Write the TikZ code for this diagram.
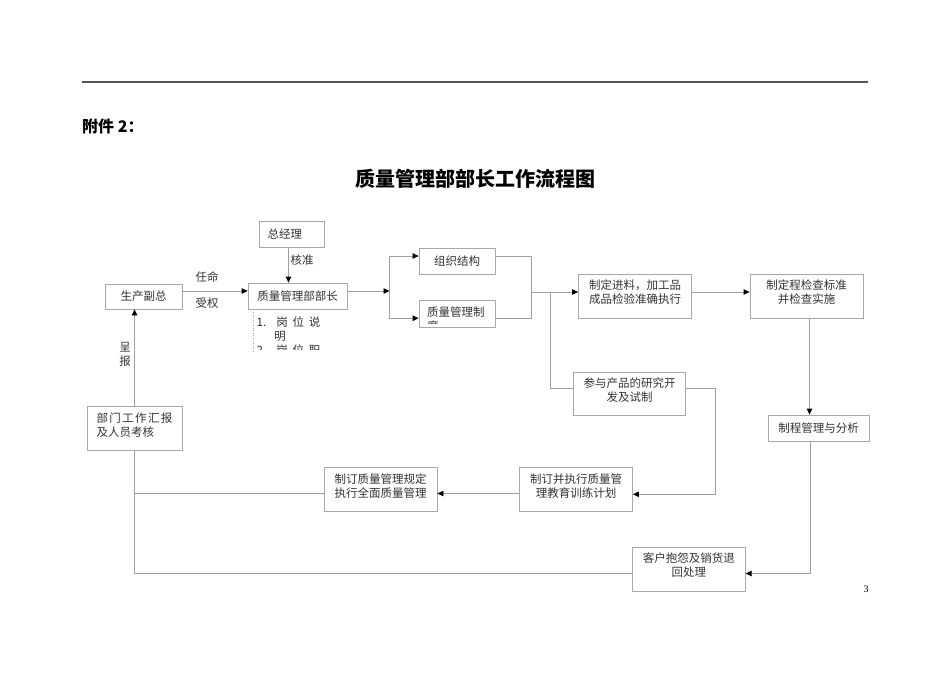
\documentclass[tikz,border=0pt]{standalone}
\usepackage{fontspec}
\setmainfont{Noto Sans CJK SC}
\newfontfamily\serifnum{Liberation Serif}
\usetikzlibrary{arrows.meta}
\definecolor{boxc}{HTML}{A8A8A8}
\definecolor{linec}{HTML}{A0A0A0}
\definecolor{txtc}{HTML}{333333}
\definecolor{rulec}{HTML}{555555}
\begin{document}
\begin{tikzpicture}[x=1pt,y=-1pt,
  box/.style={draw=boxc, line width=0.8pt, fill=white, inner sep=0pt, text=txtc,
    font=\fontsize{11.5}{14}\selectfont, align=center},
  conn/.style={draw=linec, line width=0.8pt},
  arr/.style={conn, -{Triangle[length=6pt,width=5.5pt,color=black,fill=black]}},
  lbl/.style={text=txtc, font=\fontsize{11.5}{14}\selectfont, inner sep=0pt}]
\useasboundingbox (0,0) rectangle (950,672);

% header
\draw[line width=1.3pt, color=rulec] (82,82) -- (868,82);
\node[anchor=west, inner sep=0pt, font=\fontsize{16}{19}\selectfont\bfseries] (fj) at (82,126) {附件 2：};
\node[inner sep=0pt, font=\fontsize{20}{24}\selectfont\bfseries] (title) at (475,179) {质量管理部部长工作流程图};

% boxes
\node[box, minimum width=65pt, minimum height=26pt, text width=48pt, align=left, inner xsep=8.5pt] (zjl) at (291.5,234) {总经理};
\node[box, minimum width=77pt, minimum height=25pt] (scfz) at (143.5,296.5) {生产副总};
\node[box, minimum width=99pt, minimum height=26pt] (zlbz) at (297.5,296) {质量管理部部长};
\node[box, minimum width=76pt, minimum height=26pt] (zzjg) at (457,261) {组织结构};
\node[box, minimum width=76pt, minimum height=27pt] (zlzd) at (457,313.7) {};
\node[box, minimum width=113pt, minimum height=44pt] (zdjl) at (635,296) {制定进料，加工品\\成品检验准确执行\\[-6pt]\mbox{}};
\node[box, minimum width=113pt, minimum height=44pt] (zdjc) at (806.5,296) {制定程检查标准\\并检查实施\\[-6pt]\mbox{}};
\node[box, minimum width=101pt, minimum height=26pt] (zcgl) at (818.5,428) {制程管理与分析};
\node[box, minimum width=112pt, minimum height=43pt] (cyyf) at (629.5,393.5) {参与产品的研究开\\发及试制\\[-6pt]\mbox{}};
\node[box, minimum width=113pt, minimum height=44pt] (zdjy) at (576,489.5) {制订并执行质量管\\理教育训练计划\\[-6pt]\mbox{}};
\node[box, minimum width=113pt, minimum height=44pt] (zdgd) at (380.5,489.5) {制订质量管理规定\\执行全面质量管理\\[-6pt]\mbox{}};
\node[box, minimum width=95pt, minimum height=44pt, text width=76pt, align=left, inner xsep=9.5pt] (bmhb) at (134.5,428.5) {\hbox to 76pt{部\hfill 门\hfill 工\hfill 作\hfill 汇\hfill 报}\\及人员考核\\[-6pt]\mbox{}};
\node[box, minimum width=113pt, minimum height=44pt] (khbz) at (688.8,569) {客户抱怨及销货退\\回处理\\[-6pt]\mbox{}};

% clipped text in 质量管理制度 box
\begin{scope}
  \clip (420,301) rectangle (494.5,323);
  \node[lbl, anchor=west] (zlzdA) at (427,311.7) {质量管理制};
  \node[lbl, anchor=west] (zlzdB) at (427,325.7) {度};
\end{scope}

% clipped text box under 质量管理部部长
\draw[dotted, color=boxc, line width=0.6pt] (253,312) -- (253,352);
\begin{scope}
  \clip (253.5,310) rectangle (340,349.5);
  \node[lbl, anchor=west] (g1) at (256.5,322) {1.\hspace{10pt}岗\hspace{4.8pt}位\hspace{4.8pt}说};
  \node[lbl] (g2) at (280,336) {明};
  \node[lbl, anchor=west] (g3) at (256.5,350) {2.\hspace{10pt}岗\hspace{4.8pt}位\hspace{4.8pt}职};
\end{scope}

% connectors
\coordinate (j1) at (389.5,291);
\coordinate (j2) at (531.7,292);
\coordinate (j3) at (550,292);
\coordinate (c1) at (715.7,494.3);

\draw[arr] ([xshift=-3pt]zjl.south) -- ([xshift=-3pt]zjl.south |- zlbz.north);
\draw[arr] ([yshift=5.5pt]scfz.east) -- ([yshift=5.5pt]scfz.east -| zlbz.west);
\draw[arr] ([yshift=5pt]zlbz.east) -- (j1);
\draw[arr] (j1) |- ([yshift=5pt]zzjg.west);
\draw[arr] (j1) |- ([yshift=-4.5pt]zlzd.west);
\draw[conn] ([yshift=5pt]zzjg.east) -| (j2) |- ([yshift=-4.5pt]zlzd.east);
\draw[arr] (j2) -- (j2 -| zdjl.west);
\draw[conn] (j3) |- ([yshift=5pt]cyyf.west);
\draw[arr] ([yshift=4pt]zdjl.east) -- ([yshift=4pt]zdjl.east -| zdjc.west);
\draw[arr] ([xshift=3pt]zdjc.south) -- ([xshift=3pt]zdjc.south |- zcgl.north);
\draw[arr] ([yshift=5pt]cyyf.east) -| (c1) -- (c1 -| zdjy.east);
\draw[arr] ([yshift=-4pt]zdjy.west) -- ([yshift=-4pt]zdjy.west -| zdgd.east);
\draw[conn] ([yshift=-4pt]zdgd.west) -- ([yshift=-4pt]zdgd.west -| bmhb.south);
\draw[arr] (bmhb.north) -- (bmhb.north |- scfz.south);
\draw[conn] (bmhb.south) |- ([yshift=-4.5pt]khbz.west);
\draw[arr] ([xshift=-8.5pt]zcgl.south) |- ([yshift=-4.5pt]khbz.east);

% labels
\node[lbl] (rm) at (207,277) {任命};
\node[lbl] (sq) at (207,303) {受权};
\node[lbl] (hz) at (302,260) {核准};
\node[lbl] (cheng) at (125,347) {呈};
\node[lbl] (bao) at (125,361) {报};
\node[inner sep=0pt, font=\serifnum\fontsize{10}{12}\selectfont] (pg) at (866,589) {3};
\end{tikzpicture}
\end{document}
